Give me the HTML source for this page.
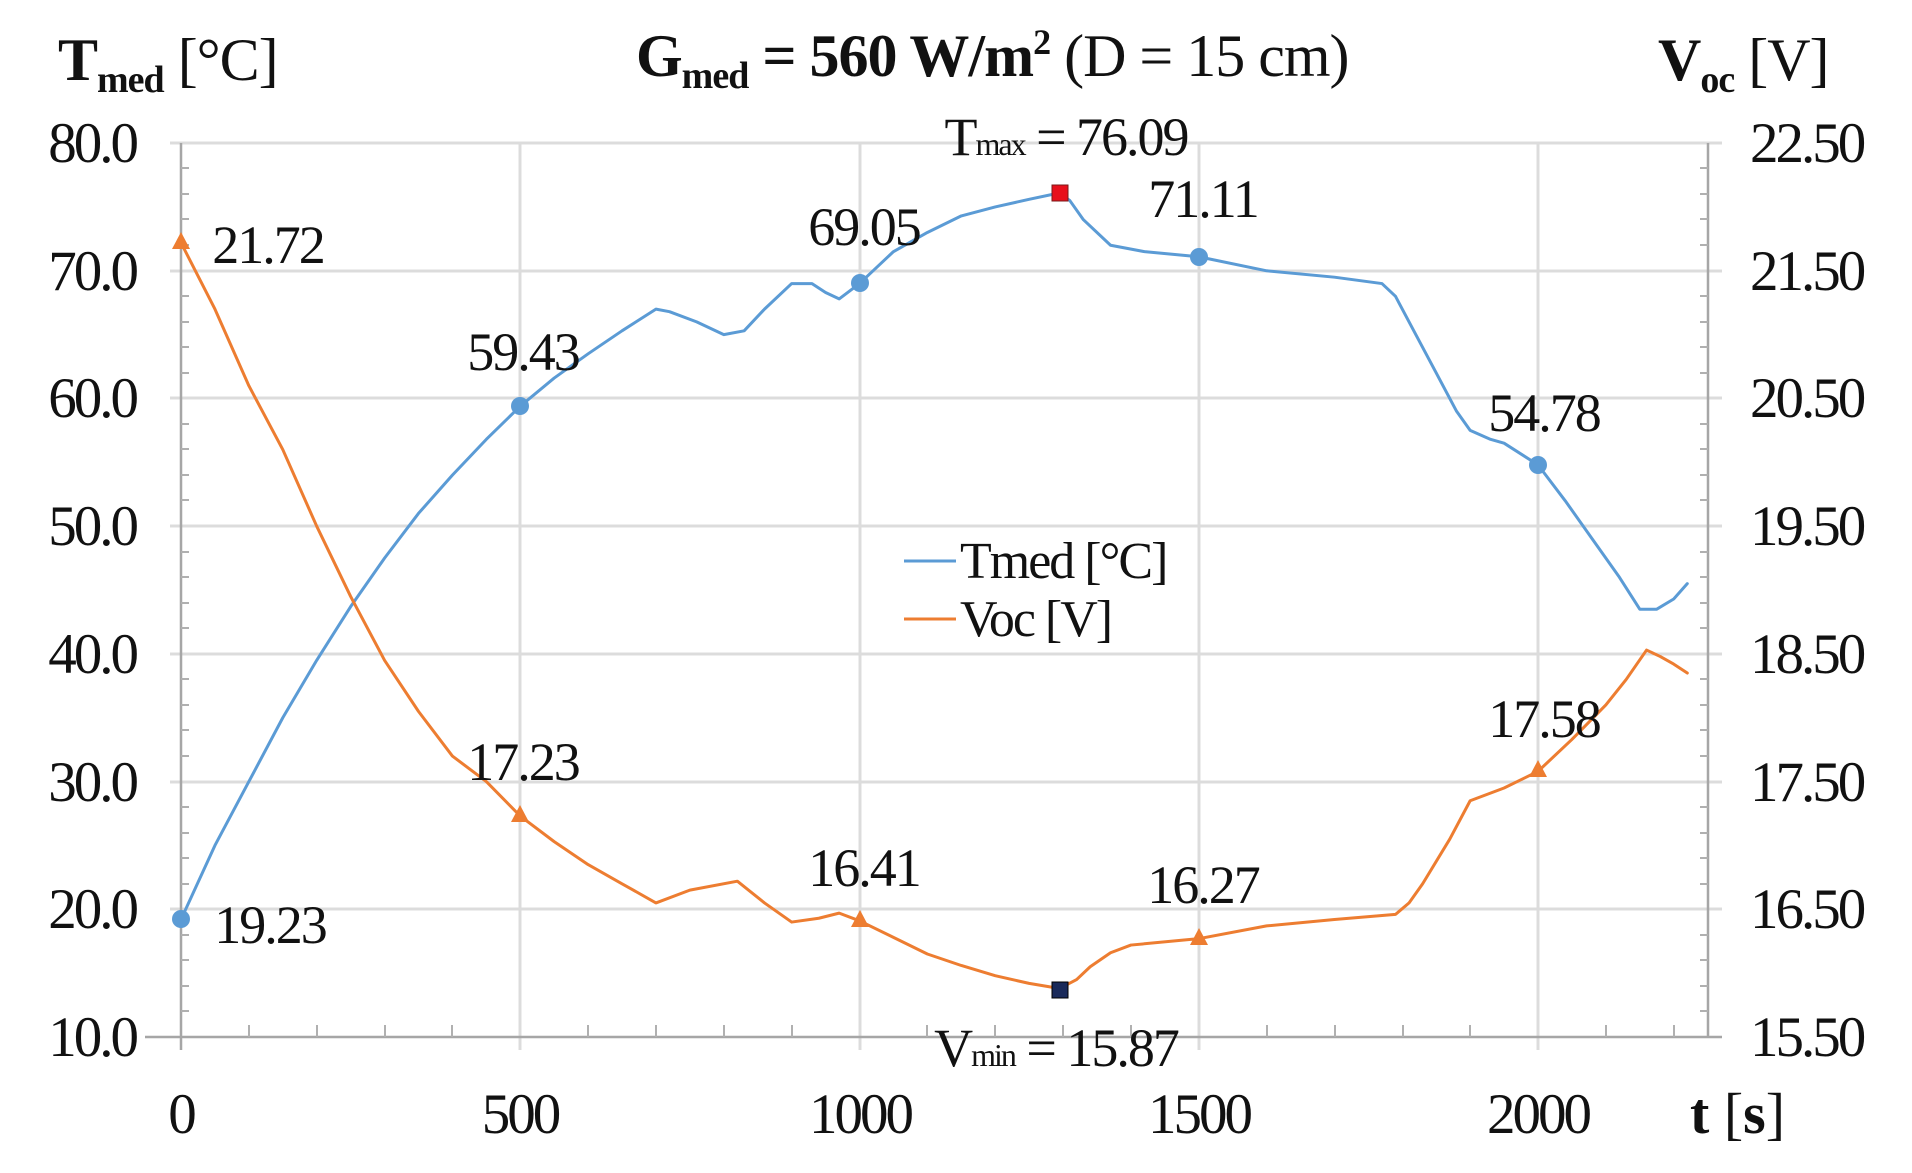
<!DOCTYPE html>
<html><head><meta charset="utf-8"><style>
html,body{margin:0;padding:0;background:#fff;}
svg{display:block;}
text{font-family:"Liberation Serif",serif;fill:#111;}
</style></head><body>
<svg width="1912" height="1173" viewBox="0 0 1912 1173" xmlns="http://www.w3.org/2000/svg">
<g stroke="#dcdcdc" stroke-width="3">
<line x1="170" x2="1722" y1="143" y2="143"/>
<line x1="170" x2="1722" y1="271" y2="271"/>
<line x1="170" x2="1722" y1="398" y2="398"/>
<line x1="170" x2="1722" y1="526" y2="526"/>
<line x1="170" x2="1722" y1="654" y2="654"/>
<line x1="170" x2="1722" y1="782" y2="782"/>
<line x1="170" x2="1722" y1="909" y2="909"/>
<line x1="520" x2="520" y1="143" y2="1050"/>
<line x1="860" x2="860" y1="143" y2="1050"/>
<line x1="1199" x2="1199" y1="143" y2="1050"/>
<line x1="1538" x2="1538" y1="143" y2="1050"/>
</g>
<g stroke="#a6a6a6" stroke-width="2.5">
<line x1="181" x2="181" y1="143" y2="1050"/>
<line x1="1708" x2="1708" y1="143" y2="1037"/>
<line x1="145" x2="1722" y1="1037" y2="1037"/>
</g>
<g stroke="#b0b0b0" stroke-width="2">
<path d="M181 168h8M181 194h8M181 219h8M181 245h8M181 296h8M181 322h8M181 347h8M181 373h8M181 424h8M181 449h8M181 475h8M181 500h8M181 552h8M181 577h8M181 603h8M181 628h8M181 679h8M181 705h8M181 730h8M181 756h8M181 807h8M181 833h8M181 858h8M181 884h8M181 935h8M181 960h8M181 986h8M181 1011h8"/>
<path d="M1708 168h-8M1708 194h-8M1708 219h-8M1708 245h-8M1708 296h-8M1708 322h-8M1708 347h-8M1708 373h-8M1708 424h-8M1708 449h-8M1708 475h-8M1708 500h-8M1708 552h-8M1708 577h-8M1708 603h-8M1708 628h-8M1708 679h-8M1708 705h-8M1708 730h-8M1708 756h-8M1708 807h-8M1708 833h-8M1708 858h-8M1708 884h-8M1708 935h-8M1708 960h-8M1708 986h-8M1708 1011h-8"/>
<path d="M249 1037v-12M317 1037v-12M385 1037v-12M452 1037v-12M588 1037v-12M656 1037v-12M724 1037v-12M792 1037v-12M927 1037v-12M995 1037v-12M1063 1037v-12M1131 1037v-12M1267 1037v-12M1335 1037v-12M1403 1037v-12M1470 1037v-12M1606 1037v-12M1674 1037v-12"/>
</g>
<g font-size="57" text-anchor="end" letter-spacing="-3">
<text x="136" y="162">80.0</text>
<text x="136" y="290">70.0</text>
<text x="136" y="417">60.0</text>
<text x="136" y="545">50.0</text>
<text x="136" y="673">40.0</text>
<text x="136" y="801">30.0</text>
<text x="136" y="928">20.0</text>
<text x="136" y="1056">10.0</text>
</g>
<g font-size="57" text-anchor="start" letter-spacing="-3">
<text x="1750" y="162">22.50</text>
<text x="1750" y="290">21.50</text>
<text x="1750" y="417">20.50</text>
<text x="1750" y="545">19.50</text>
<text x="1750" y="673">18.50</text>
<text x="1750" y="801">17.50</text>
<text x="1750" y="928">16.50</text>
<text x="1750" y="1056">15.50</text>
</g>
<g font-size="57" text-anchor="middle" letter-spacing="-3">
<text x="181" y="1133">0</text>
<text x="520" y="1133">500</text>
<text x="860" y="1133">1000</text>
<text x="1199" y="1133">1500</text>
<text x="1538" y="1133">2000</text>
</g>
<text x="1690" y="1133" font-size="58" font-weight="bold">t <tspan font-weight="normal">[</tspan>s<tspan font-weight="normal">]</tspan></text>
<text x="58" y="80" font-size="60" font-weight="bold" letter-spacing="-1">T<tspan font-size="38" dy="12">med</tspan><tspan dy="-12" font-weight="normal"> [°C]</tspan></text>
<text x="1658" y="80" font-size="60" font-weight="bold" letter-spacing="-1">V<tspan font-size="38" dy="12">oc</tspan><tspan dy="-12" font-weight="normal"> [V]</tspan></text>
<text x="636" y="76" font-size="60" font-weight="bold" letter-spacing="-1">G<tspan font-size="38" dy="12">med</tspan><tspan dy="-12"> = 560 W/m</tspan><tspan font-size="36" dy="-22">2</tspan><tspan dy="22" font-weight="normal"> (D = 15 cm)</tspan></text>
<g transform="translate(181,1037) scale(0.6785,-12.77) translate(0,-10)" fill="none" stroke-linejoin="round" stroke-linecap="round">
<polyline vector-effect="non-scaling-stroke" stroke="#5b9bd5" stroke-width="3" points="0,19.2 50,25 100,30 150,35 200,39.5 250,43.7 300,47.5 350,51 400,54 450,56.8 500,59.4 550,61.6 600,63.5 650,65.3 700,67 720,66.8 760,66 800,65 830,65.3 860,67 900,69 930,69 950,68.3 970,67.8 1000,69 1050,71.5 1100,73 1150,74.3 1200,75 1250,75.6 1295,76.1 1310,75.5 1330,74 1370,72 1420,71.5 1500,71.1 1600,70 1700,69.5 1770,69 1790,68 1820,65 1850,62 1880,59 1900,57.5 1930,56.8 1950,56.5 2000,54.8 2040,52 2080,49 2120,46 2150,43.5 2175,43.5 2200,44.3 2220,45.5"/>
<polyline vector-effect="non-scaling-stroke" stroke="#ed7d31" stroke-width="3" points="0,72.2 50,67 100,61 150,56 200,50 250,44.5 300,39.5 350,35.5 400,32 450,30 500,27.3 550,25.3 600,23.5 650,22 700,20.5 750,21.5 820,22.2 860,20.5 900,19 940,19.3 970,19.7 1000,19.1 1050,17.8 1100,16.5 1150,15.6 1200,14.8 1250,14.2 1295,13.8 1320,14.5 1340,15.5 1370,16.6 1400,17.2 1500,17.7 1600,18.7 1700,19.2 1790,19.6 1810,20.5 1830,22 1870,25.5 1900,28.5 1950,29.5 2000,30.8 2050,33.3 2100,36 2130,38 2160,40.3 2180,39.8 2200,39.2 2220,38.5"/>
</g>
<g fill="#5b9bd5">
<circle cx="181" cy="919" r="9"/><circle cx="520" cy="406" r="9"/><circle cx="860" cy="283" r="9"/><circle cx="1199" cy="257" r="9"/><circle cx="1538" cy="465" r="9"/>
</g>
<g fill="#ed7d31">
<polygon points="181,232 172,249 190,249"/><polygon points="520,805 511,822 529,822"/><polygon points="860,910 851,927 869,927"/><polygon points="1199,928 1190,945 1208,945"/><polygon points="1538,760 1529,777 1547,777"/>
</g>
<rect x="1052" y="185" width="16" height="16" fill="#e8101c" stroke="#7a1a1a" stroke-width="1"/>
<rect x="1052" y="982" width="16" height="16" fill="#1a2a5a" stroke="#000" stroke-width="1"/>
<line x1="904" x2="956" y1="561" y2="561" stroke="#5b9bd5" stroke-width="3"/>
<line x1="904" x2="956" y1="619" y2="619" stroke="#ed7d31" stroke-width="3"/>
<g font-size="52" letter-spacing="-2">
<text x="960" y="578">Tmed [°C]</text>
<text x="960" y="636">Voc [V]</text>
</g>
<g font-size="54" letter-spacing="-2" text-anchor="middle">
<text x="268" y="263">21.72</text>
<text x="270" y="943">19.23</text>
<text x="523" y="370">59.43</text>
<text x="523" y="780">17.23</text>
<text x="864" y="245">69.05</text>
<text x="864" y="886">16.41</text>
<text x="1203" y="217">71.11</text>
<text x="1203" y="903">16.27</text>
<text x="1544" y="431">54.78</text>
<text x="1544" y="737">17.58</text>
<text x="1066" y="155">T<tspan font-size="32">max</tspan> = 76.09</text>
<text x="1056" y="1066">V<tspan font-size="32">min</tspan> = 15.87</text>
</g>
</svg>
</body></html>
